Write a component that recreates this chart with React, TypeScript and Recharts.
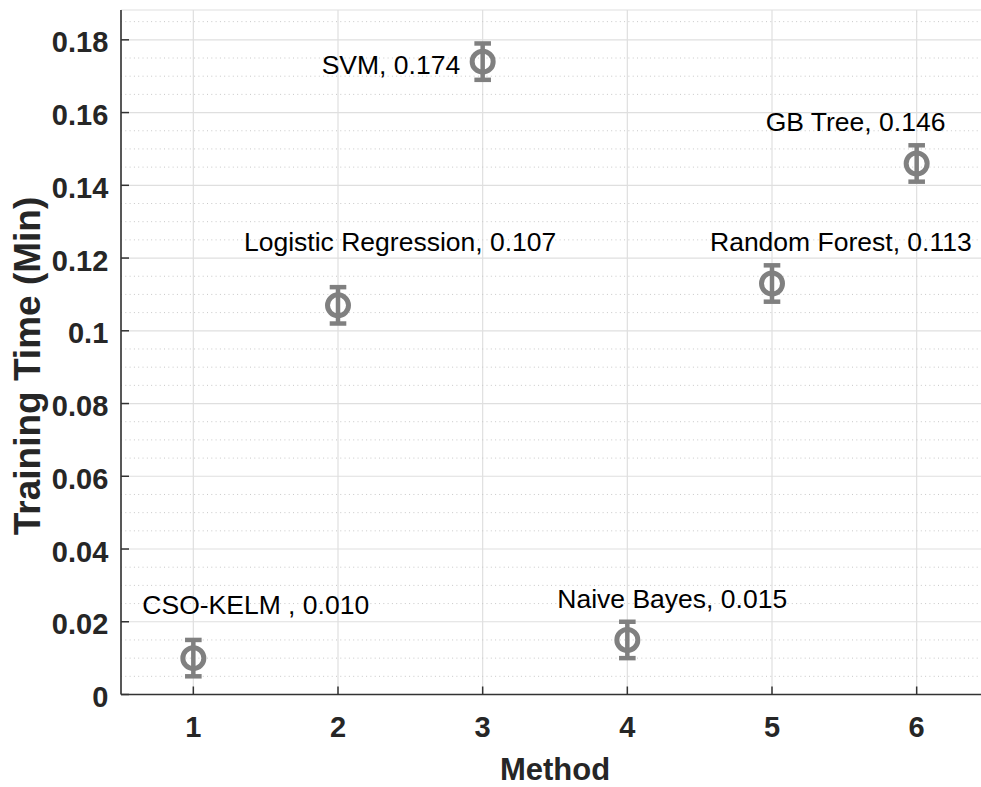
import { ScatterChart, Scatter, XAxis, YAxis, CartesianGrid, ReferenceLine, ErrorBar } from "recharts"

const methodNames = ["CSO-KELM ", "Logistic Regression", "SVM", "Naive Bayes", "Random Forest", "GB Tree"]
const methodIndex = [1, 2, 3, 4, 5, 6]
const trainingTime = [0.010, 0.107, 0.174, 0.015, 0.113, 0.146]
const timeError = [0.005, 0.005, 0.005, 0.005, 0.005, 0.005]

const xTicks = [1, 2, 3, 4, 5, 6]
const yTicks = [0, 0.02, 0.04, 0.06, 0.08, 0.1, 0.12, 0.14, 0.16, 0.18]

// dotted minor grid every 0.005 (skip the major ones)
const yMinor = Array.from({ length: 38 }, (_, i) => +(i * 0.005).toFixed(3)).filter(v => Math.round(v * 1000) % 20 !== 0)

// where each text label sits, relative to its marker (px)
const labelOffsets = [[-51, -44], [-94, -54], [-161, 12], [-70, -32], [-62, -33], [-151, -32]]

const data = methodIndex.map((x, i) => ({ i, x, y: trainingTime[i], err: timeError[i], name: methodNames[i] }))

const FONT = "'Liberation Sans', Arial, Helvetica, sans-serif"
const AXIS = "#333333"
const GREY = "#808080"

const BottomTick = ({ x, y, payload }: any) => (
    <g>
        <line x1={x} y1={y} x2={x} y2={y - 8} stroke={AXIS} strokeWidth={1.5} />
        <text x={x} y={y + 42.5} textAnchor="middle" fontSize={29} fontWeight="bold" fill="#262626" fontFamily={FONT}>
            {payload.value}
        </text>
    </g>
)

const TopTick = ({ x, y }: any) => (
    <line x1={x} y1={y} x2={x} y2={y + 9} stroke={AXIS} strokeWidth={1.5} />
)

const LeftTick = ({ x, y, payload }: any) => (
    <g>
        <line x1={x} y1={y} x2={x + 8} y2={y} stroke={AXIS} strokeWidth={1.5} />
        <text x={x - 12.7} y={y + 12.5} textAnchor="end" fontSize={29} fontWeight="bold" fill="#262626" fontFamily={FONT}>
            {String(payload.value)}
        </text>
    </g>
)

const Marker = (props: any) => {
    const { cx, cy, payload } = props
    const [dx, dy] = labelOffsets[payload.i]
    return (
        <g>
            <circle cx={cx} cy={cy} r={10.5} fill="none" stroke={GREY} strokeWidth={5} />
            <text x={cx + dx} y={cy + dy} fontSize={26.5} fill="#000" fontFamily={FONT}>
                {payload.name + ", " + payload.y.toFixed(3)}
            </text>
        </g>
    )
}

export default function App() {
    return (
        <div style={{ position: "absolute", left: 0, top: 0, width: 981, height: 787, overflow: "hidden", background: "#fff" }}>
            <ScatterChart width={1000} height={787} margin={{ top: 10, right: 11, bottom: 0, left: 0 }}>
                <CartesianGrid stroke="#dfdfdf" strokeWidth={1.2} />
                {yMinor.map(v => (
                    <ReferenceLine key={v} y={v} stroke="#c8c8c8" strokeWidth={1} strokeDasharray="1 3.3" />
                ))}
                <XAxis
                    type="number"
                    dataKey="x"
                    domain={[0.5, 6.5]}
                    ticks={xTicks}
                    height={92.5}
                    tickSize={0}
                    tickMargin={0}
                    tickLine={false}
                    axisLine={{ stroke: AXIS, strokeWidth: 1.6 }}
                    tick={BottomTick}
                    interval={0}
                    label={({ viewBox }: any) => (
                        <text x={viewBox.x + viewBox.width / 2} y={780} textAnchor="middle" fontSize={31} fontWeight="bold" fill="#262626" fontFamily={FONT}>
                            Method
                        </text>
                    )}
                />
                <XAxis
                    xAxisId="top"
                    orientation="top"
                    type="number"
                    domain={[0.5, 6.5]}
                    ticks={xTicks}
                    height={0}
                    tickSize={0}
                    tickMargin={0}
                    tickLine={false}
                    axisLine={{ stroke: AXIS, strokeWidth: 1.6 }}
                    tick={TopTick}
                    interval={0}
                />
                <YAxis
                    type="number"
                    dataKey="y"
                    domain={[0, 0.1882]}
                    ticks={yTicks}
                    width={121}
                    tickSize={0}
                    tickMargin={0}
                    tickLine={false}
                    axisLine={{ stroke: AXIS, strokeWidth: 1.6 }}
                    tick={LeftTick}
                    interval={0}
                    label={() => (
                        <text
                            transform="translate(40, 366) rotate(-90)"
                            textAnchor="middle"
                            fontSize={37}
                            fontWeight="bold"
                            fill="#262626"
                            fontFamily={FONT}
                        >
                            Training Time (Min)
                        </text>
                    )}
                />
                <Scatter data={data} shape={Marker} isAnimationActive={false}>
                    <ErrorBar dataKey="err" direction="y" width={8.3} stroke={GREY} strokeWidth={4.5} />
                </Scatter>
            </ScatterChart>
        </div>
    )
}
